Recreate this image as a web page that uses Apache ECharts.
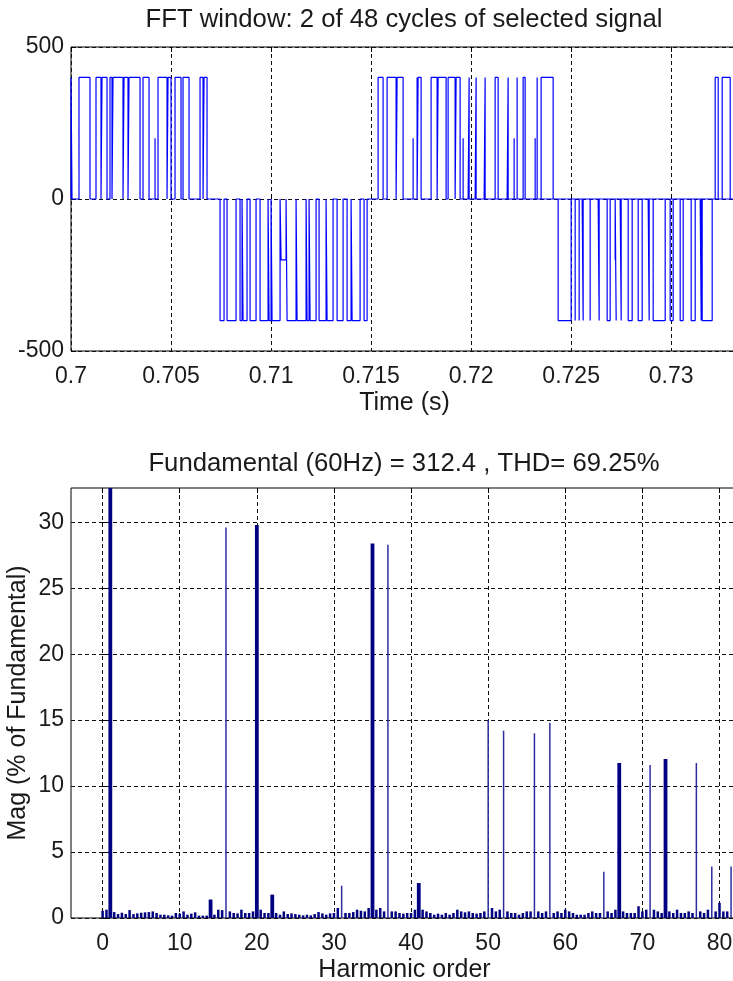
<!DOCTYPE html>
<html><head><meta charset="utf-8">
<script src="https://cdn.jsdelivr.net/npm/echarts@6/dist/echarts.min.js"></script>
<style>html,body{margin:0;padding:0;background:#fff}#c{width:733px;height:981px}</style>
</head><body><div id="c"></div>
<script>
// ---------- tick labels ----------
const timeTicks = [0.7, 0.705, 0.71, 0.715, 0.72, 0.725, 0.73];
const voltTicks = [-500, 0, 500];
const orderTicks = [0, 10, 20, 30, 40, 50, 60, 70, 80];
const magTicks = [0, 5, 10, 15, 20, 25, 30];

// ---------- top plot: PWM line voltage, pulses (ms after 0.7 s) ----------
const pulseOnMs = [
  0, 0.4, 1.25, 1.55, 1.95, 2.1, 2.65, 2.9, 3.6, 4.2, 4.35, 4.85, 5.2, 5.6, 6.45, 6.65,
  7.45, 7.8, 8.45, 8.6, 8.95, 9.45, 9.9, 10.05, 10.5, 10.8, 11.3, 11.8, 11.95, 12.4, 12.8, 13.3, 13.8, 14.05, 14.65,
  15.35, 15.8, 16.3, 17.1, 17.3, 17.35, 18.0, 18.35, 18.85, 19.25, 19.6, 19.9, 20.25, 20.7, 21.35, 21.85, 22.15, 22.3, 22.7, 23.2, 23.3,
  24.1, 25.0, 25.2, 25.4, 25.6, 25.95, 26.4, 26.95, 27.2, 27.25, 27.5, 28.05, 28.55, 28.9, 29.7, 30.1, 30.6, 31.2, 31.5,
  32.05, 32.35, 32.95
];
const pulseOffMs = [
  0.05, 0.95, 1.5, 1.8, 2.05, 2.6, 2.85, 3.45, 3.9, 4.2, 4.8, 5.0, 5.5, 5.9, 6.6, 6.8,
  7.65, 8.25, 8.55, 8.8, 9.25, 9.85, 10.0, 10.45, 10.75, 11.25, 11.75, 11.9, 12.25, 12.75, 13.1, 13.6, 14.0, 14.45, 14.8,
  15.6, 16.25, 16.6, 17.1, 17.3, 17.5, 18.3, 18.75, 19.2, 19.45, 19.6, 19.85, 20.2, 20.65, 21.2, 21.8, 22.15, 22.3, 22.6, 23.2, 23.3, 23.5,
  24.35, 25.2, 25.4, 25.55, 25.95, 26.35, 26.8, 27.2, 27.2, 27.45, 27.85, 28.35, 28.85, 29.1, 29.95, 30.45, 31.0, 31.45, 31.55,
  32.2, 32.55, 33.34
];
const pulseLevel = [
  400, 400, 400, 400, 400, 400, 400, 400, 400, 200, 400, 400, 400, 400, 400, 400,
  -400, -400, -400, -400, -400, -400, -400, -400, -200, -400, -400, -400, -400, -400, -400, -400, -400, -400, -400,
  400, 400, 400, 200, 400, 400, 400, 400, 400, 400, 200, 400, 400, 400, 400, 400, 200, 400, 400, 200, 400, 400,
  -400, -400, -400, -400, -400, -400, -400, -200, -400, -400, -400, -400, -400, -400, -400, -400, -400, -400, -400,
  400, 400, 200
];
const windowEndMs = 33.34;

// ---------- bottom plot: harmonic spectrum ----------
const harmonicOrders = [
  0, 0.5, 1, 1.5, 2, 2.5, 3, 3.5, 4, 4.5, 5, 5.5, 6, 6.5, 7, 7.5, 8, 8.5, 9, 9.5,
  10, 10.5, 11, 11.5, 12, 12.5, 13, 13.5, 14, 14.5, 15, 15.5, 16, 16.5, 17, 17.5, 18, 18.5, 19, 19.5,
  20, 20.5, 21, 21.5, 22, 22.5, 23, 23.5, 24, 24.5, 25, 25.5, 26, 26.5, 27, 27.5, 28, 28.5, 29, 29.5,
  30, 30.5, 31, 31.5, 32, 32.5, 33, 33.5, 34, 34.5, 35, 35.5, 36, 36.5, 37, 37.5, 38, 38.5, 39, 39.5,
  40, 40.5, 41, 41.5, 42, 42.5, 43, 43.5, 44, 44.5, 45, 45.5, 46, 46.5, 47, 47.5, 48, 48.5, 49, 49.5,
  50, 50.5, 51, 51.5, 52, 52.5, 53, 53.5, 54, 54.5, 55, 55.5, 56, 56.5, 57, 57.5, 58, 58.5, 59, 59.5,
  60, 60.5, 61, 61.5, 62, 62.5, 63, 63.5, 64, 64.5, 65, 65.5, 66, 66.5, 67, 67.5, 68, 68.5, 69, 69.5,
  70, 70.5, 71, 71.5, 72, 72.5, 73, 73.5, 74, 74.5, 75, 75.5, 76, 76.5, 77, 77.5, 78, 78.5, 79, 79.5,
  80, 80.5, 81, 81.5, 82
];
const magnitudes = [
  0.55, 0.63, 100, 0.45, 0.3, 0.4, 0.3, 0.6, 0.3, 0.35, 0.4, 0.43, 0.45, 0.5, 0.38, 0.25, 0.25, 0.2, 0.18, 0.38,
  0.33, 0.5, 0.25, 0.33, 0.43, 0.18, 0.18, 0.18, 1.4, 0.25, 0.63, 0.6, 29.6, 0.5, 0.38, 0.35, 0.63, 0.38, 0.38, 0.5,
  29.8, 0.63, 0.38, 0.38, 1.77, 0.38, 0.25, 0.5, 0.3, 0.35, 0.3, 0.25, 0.2, 0.25, 0.2, 0.3, 0.45, 0.35, 0.25, 0.35,
  0.38, 0.76, 2.45, 0.38, 0.38, 0.45, 0.63, 0.55, 0.5, 0.76, 28.4, 0.63, 0.76, 0.5, 28.3, 0.5, 0.5, 0.38, 0.33, 0.38,
  0.38, 0.63, 2.65, 0.63, 0.5, 0.38, 0.25, 0.33, 0.25, 0.38, 0.25, 0.38, 0.63, 0.5, 0.43, 0.5, 0.38, 0.33, 0.38, 0.5,
  15.0, 0.76, 0.5, 0.63, 14.2, 0.5, 0.38, 0.38, 0.25, 0.38, 0.5, 0.5, 14.0, 0.5, 0.38, 0.5, 14.8, 0.38, 0.5, 0.38,
  0.63, 0.5, 0.38, 0.25, 0.25, 0.25, 0.38, 0.5, 0.38, 0.38, 3.5, 0.5, 0.38, 0.63, 11.75, 0.5, 0.38, 0.38, 0.38, 0.89,
  0.5, 0.63, 11.6, 0.63, 0.5, 0.38, 12.05, 0.5, 0.38, 0.63, 0.38, 0.38, 0.5, 0.38, 11.75, 0.5, 0.38, 0.63, 3.9, 0.5,
  1.15, 0.5, 0.5, 3.9, 0.4
];
// drawing style groups (bars drawn wide / hairline in the original rendering)
const wideBars = [1, 14, 20, 22, 35, 41, 67, 73];
const hairBars = [16, 31, 37, 50, 52, 56, 58, 65, 71, 77, 79, 81.5];

const FONT = "'Liberation Sans', Arial, sans-serif";
const FS = 23;
const NFS = 25;
const TXT = '#1a1a1a';

const wave = [[0.7, 0]];
pulseOnMs.forEach((on, i) => {
  const t0 = 0.7 + on / 1000, t1 = 0.7 + pulseOffMs[i] / 1000, v = pulseLevel[i];
  wave.push([t0, 0], [t0, v], [t1, v], [t1, 0]);
});
wave.push([0.7 + windowEndMs / 1000, 0]);

const spec = harmonicOrders.map((o, i) => [o, magnitudes[i]]);
const MAGMAX = 32.6;

function xAx(grid, min, max, ticks, pos, name, showLbl) {
  return {
    type: 'value', gridIndex: grid, min: min, max: max, position: pos,
    axisLine: { show: false },
    axisTick: { show: true, inside: true, length: 5, customValues: ticks, lineStyle: { color: '#000', width: 1 } },
    axisLabel: { show: showLbl, customValues: ticks, fontFamily: FONT, fontSize: FS, color: TXT, margin: 14 },
    splitLine: { show: showLbl, lineStyle: { color: '#111', type: [4, 3], width: 1 } },
    name: showLbl ? name : '', nameLocation: 'middle', nameGap: 40, nameMoveOverlap: false,
    nameTextStyle: { fontFamily: FONT, fontSize: NFS, color: TXT }
  };
}

const chart = echarts.init(document.getElementById('c'), null, { renderer: 'canvas' });
chart.setOption({
  animation: false,
  backgroundColor: '#fff',
  grid: [
    { left: 71, right: -5, top: 47, height: 304, show: true, borderColor: '#000', borderWidth: 1, backgroundColor: 'transparent', containLabel: false, outerBoundsMode: 'none' },
    { left: 71, right: -5, top: 488, height: 430, show: true, borderColor: '#000', borderWidth: 1, backgroundColor: 'transparent', containLabel: false, outerBoundsMode: 'none' }
  ],
  graphic: [
    { type: 'text', x: 404, y: 20, style: { text: 'FFT window: 2 of 48 cycles of selected signal', font: '25.7px ' + FONT, fill: TXT, align: 'center', verticalAlign: 'middle' } },
    { type: 'text', x: 404, y: 464, style: { text: 'Fundamental (60Hz) = 312.4 , THD= 69.25%', font: '25.7px ' + FONT, fill: TXT, align: 'center', verticalAlign: 'middle' } }
  ],
  xAxis: [
    xAx(0, 0.7, 0.7 + windowEndMs / 1000, timeTicks, 'bottom', 'Time (s)', true),
    xAx(0, 0.7, 0.7 + windowEndMs / 1000, timeTicks, 'top', '', false),
    xAx(1, -4.1, 82.4, orderTicks, 'bottom', 'Harmonic order', true),
    xAx(1, -4.1, 82.4, orderTicks, 'top', '', false)
  ],
  yAxis: [
    {
      type: 'value', gridIndex: 0, min: -500, max: 500,
      axisLine: { show: false },
      axisTick: { show: true, inside: true, length: 5, customValues: voltTicks, lineStyle: { color: '#000' } },
      axisLabel: { customValues: voltTicks, fontFamily: FONT, fontSize: FS, color: TXT, margin: 7 },
      splitLine: { show: true, lineStyle: { color: '#111', type: [4, 3] } }
    },
    {
      type: 'value', gridIndex: 1, min: 0, max: MAGMAX,
      axisLine: { show: false },
      axisTick: { show: true, inside: true, length: 5, customValues: magTicks, lineStyle: { color: '#000' } },
      axisLabel: { customValues: magTicks, fontFamily: FONT, fontSize: FS, color: TXT, margin: 7 },
      splitLine: { show: true, lineStyle: { color: '#111', type: [4, 3] } },
      name: 'Mag (% of Fundamental)', nameLocation: 'middle', nameGap: 40, nameRotate: 90, nameMoveOverlap: false,
      nameTextStyle: { fontFamily: FONT, fontSize: NFS, color: TXT }
    }
  ],
  series: [
    {
      type: 'line', xAxisIndex: 0, yAxisIndex: 0, data: wave, showSymbol: false, symbol: 'none',
      lineStyle: { color: '#0000ff', width: 1.2 }, z: 5, clip: true
    },
    {
      type: 'custom', xAxisIndex: 2, yAxisIndex: 1, data: spec, clip: true, z: 5,
      encode: { x: 0, y: 1 },
      renderItem: function (params, api) {
        const o = api.value(0);
        const m = Math.min(api.value(1), MAGMAX + 1);
        const top = api.coord([o, m]);
        const base = api.coord([o, 0]);
        let w = 2.5, fill = '#000080';
        if (wideBars.indexOf(o) >= 0) w = 3.8;
        if (hairBars.indexOf(o) >= 0) { w = 1.5; fill = '#2d2da0'; }
        return { type: 'rect', shape: { x: top[0] - w / 2, y: top[1], width: w, height: base[1] - top[1] }, style: { fill: fill } };
      }
    }
  ]
});
</script>
</body></html>
